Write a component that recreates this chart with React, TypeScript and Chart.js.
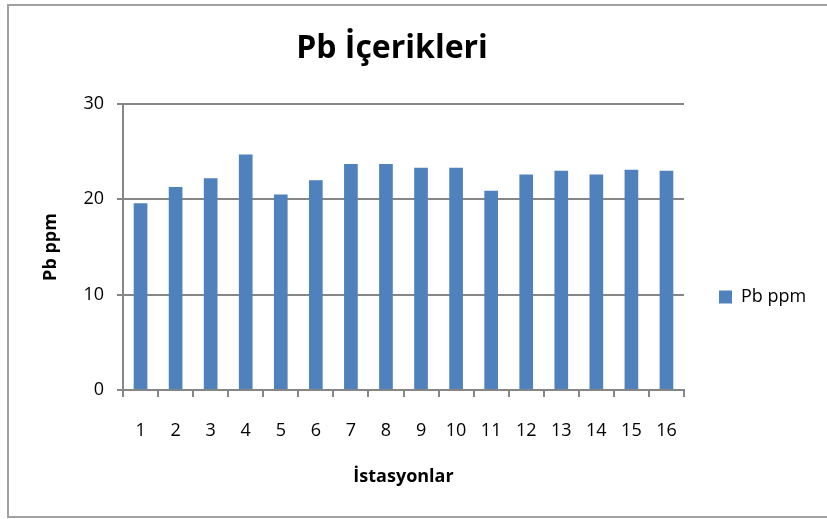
import React, { useEffect, useRef } from "react";
import { Chart, registerables } from "chart.js";

Chart.register(...registerables);

const categories = ["1", "2", "3", "4", "5", "6", "7", "8", "9", "10", "11", "12", "13", "14", "15", "16"];
const pbValues = [19.6, 21.3, 22.2, 24.7, 20.5, 22.0, 23.7, 23.7, 23.3, 23.3, 20.9, 22.6, 23.0, 22.6, 23.1, 23.0];
const seriesName = "Pb ppm";
const chartTitle = "Pb İçerikleri";
const xTitle = "İstasyonlar";
const yTitle = "Pb ppm";

const FONT = "'Open Sans', Lato, sans-serif";

const frame = {
  id: "frame",
  beforeDraw(chart: any) {
    const { ctx } = chart;
    ctx.save();
    ctx.fillStyle = "#ffffff";
    ctx.fillRect(0, 0, chart.width, chart.height);
    ctx.strokeStyle = "#a0a0a0";
    ctx.lineWidth = 2;
    ctx.strokeRect(8, 5, chart.width + 10, chart.height - 7);
    ctx.restore();
  },
};

const legendPlace = {
  id: "legendPlace",
  afterLayout(chart: any) {
    const L = chart.legend;
    if (!L) return;
    const h = L.bottom - L.top;
    const w = L.right - L.left;
    L.left = 709;
    L.right = L.left + w;
    L.top = 297 - h / 2;
    L.bottom = L.top + h;
  },
};

export default function App() {
  const ref = useRef<HTMLCanvasElement | null>(null);
  useEffect(() => {
    if (!ref.current) return;
    const chart = new Chart(ref.current, {
      type: "bar",
      data: {
        labels: categories,
        datasets: [
          {
            label: seriesName,
            data: pbValues,
            backgroundColor: "#4f81bd",
            borderWidth: 0,
            barPercentage: 0.39,
            categoryPercentage: 1,
          },
        ],
      },
      options: {
        animation: false,
        responsive: true,
        maintainAspectRatio: false,
        devicePixelRatio: 1,
        layout: { padding: { left: 0, right: 43, top: 0, bottom: 0 } },
        font: { family: FONT },
        plugins: {
          title: {
            display: true,
            text: chartTitle,
            color: "#000",
            font: { family: FONT, size: 32, weight: "bold" },
            padding: { top: 30, bottom: 35.6 },
          },
          legend: {
            position: "right",
            maxWidth: 100,
            labels: {
              boxWidth: 13,
              boxHeight: 13,
              color: "#000",
              padding: 10,
              font: { family: FONT, size: 18 },
            },
          },
          tooltip: { enabled: false },
        },
        scales: {
          x: {
            grid: { offset: true, drawOnChartArea: false, tickLength: 7, color: "#868686", lineWidth: 2 },
            border: { color: "#868686", width: 2 },
            ticks: { color: "#000", padding: 23, font: { family: FONT, size: 18 }, maxRotation: 0 },
            title: {
              display: true,
              text: xTitle,
              color: "#000",
              font: { family: FONT, size: 18, weight: "bold" },
              padding: { top: 0, bottom: 31 },
            },
            afterFit: (s: any) => {
              s.height = 129;
            },
          },
          y: {
            min: 0,
            max: 30,
            ticks: { stepSize: 10, color: "#000", padding: 13, font: { family: FONT, size: 18 } },
            grid: { color: "#868686", tickLength: 6, lineWidth: 2 },
            border: { color: "#868686", width: 2 },
            title: {
              display: true,
              text: yTitle,
              color: "#000",
              font: { family: FONT, size: 18, weight: "bold" },
              padding: { top: 40, bottom: 0 },
            },
            afterFit: (s: any) => {
              s.width = 123;
            },
          },
        },
      },
      plugins: [frame, legendPlace],
    });
    return () => chart.destroy();
  }, []);
  return (
    <div style={{ position: "fixed", left: 0, top: 0, width: 827, height: 519, background: "#fff" }}>
      <canvas ref={ref} />
    </div>
  );
}
